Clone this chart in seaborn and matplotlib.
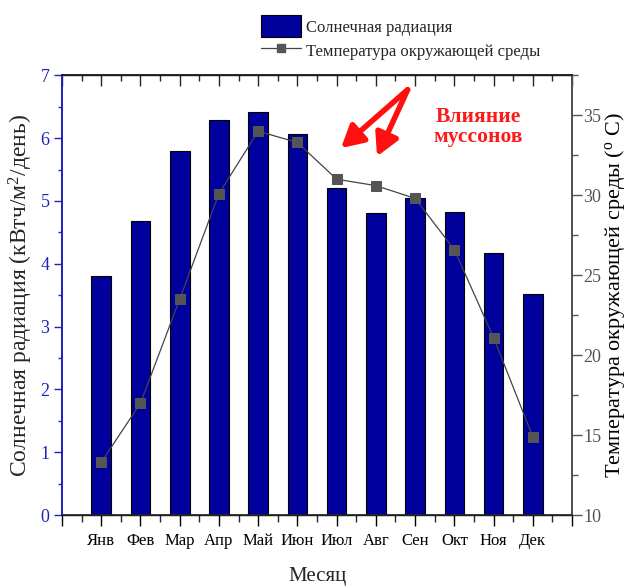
import numpy as np
import pandas as pd
import matplotlib
matplotlib.use("Agg")
import matplotlib.pyplot as plt
from matplotlib.ticker import MultipleLocator, FuncFormatter
from matplotlib.lines import Line2D
from matplotlib.patches import Patch
import seaborn as sns

# ── Data ───────────────────────────────────────────────────────────────────────
months = ["Янв", "Фев", "Мар", "Апр", "Май", "Июн",
          "Июл", "Авг", "Сен", "Окт", "Ноя", "Дек"]
radiation = [3.80, 4.68, 5.79, 6.29, 6.41, 6.07, 5.21, 4.80, 5.05, 4.82, 4.17, 3.52]
temperature = [13.3, 17.0, 23.5, 30.1, 34.0, 33.3, 31.0, 30.6, 29.8, 26.6, 21.1, 14.9]

BAR_COLOR = "#00009c"
AXIS_BLUE = "#2222bb"
AXIS_GREY = "#555555"

sns.set_theme(style="ticks")
plt.rcParams["font.family"] = ["Liberation Serif", "DejaVu Serif"]
plt.rcParams["mathtext.fontset"] = "custom"
plt.rcParams["mathtext.rm"] = "Liberation Serif"
plt.rcParams["mathtext.it"] = "Liberation Serif:italic"

df = pd.DataFrame({"month": months, "rad": radiation})
pos = np.arange(len(months))

fig = plt.figure(figsize=(6.29, 5.88), dpi=100)
ax = fig.add_axes([0.0986, 0.124, 0.8108, 0.748])

sns.barplot(data=df, x="month", y="rad", color=BAR_COLOR, width=0.5,
            edgecolor="black", linewidth=0.8, saturation=1, ax=ax, zorder=2)

ax.set_xlim(-1, len(months))
ax.set_ylim(0, 7)
ax.xaxis.set_major_locator(MultipleLocator(1))
ax.xaxis.set_minor_locator(MultipleLocator(0.5))
ax.xaxis.set_major_formatter(FuncFormatter(
    lambda v, p: months[int(round(v))] if 0 <= round(v) < len(months) else ""))
ax.yaxis.set_major_locator(MultipleLocator(1))
ax.yaxis.set_minor_locator(MultipleLocator(0.5))

ax.tick_params(axis="x", which="major", direction="out", length=8, width=1,
               labelsize=12, pad=5, colors="black")
ax.tick_params(axis="x", which="minor", direction="out", length=5, width=1)
ax.tick_params(axis="y", which="major", direction="out", length=6, width=1,
               labelsize=13, pad=3, colors=AXIS_BLUE)
ax.tick_params(axis="y", which="minor", direction="out", length=3, width=1,
               colors=AXIS_BLUE)
ax.spines["left"].set_color(AXIS_BLUE)
for s in ["top", "bottom"]:
    ax.spines[s].set_color("black")
    ax.spines[s].set_linewidth(1)

ax.set_xlabel("Месяц", fontsize=15, labelpad=13)
ax.set_ylabel("Солнечная радиация (кВтч/м$^2$/день)", fontsize=17, labelpad=4)

# top ticks pointing inward
top = ax.secondary_xaxis("top")
top.xaxis.set_major_locator(MultipleLocator(1))
top.xaxis.set_minor_locator(MultipleLocator(0.5))
top.tick_params(which="major", direction="in", length=8, width=1, labeltop=False)
top.tick_params(which="minor", direction="in", length=4, width=1)

# ── Temperature on twin axis ───────────────────────────────────────────────────
ax2 = ax.twinx()
sns.lineplot(x=pos, y=temperature, ax=ax2, color="#444444", linewidth=0.9,
             marker="s", markersize=7, markerfacecolor="#555555",
             markeredgecolor="#555555", zorder=3)
ax2.set_ylim(10, 37.5)
ax2.yaxis.set_major_locator(MultipleLocator(5))
ax2.yaxis.set_minor_locator(MultipleLocator(2.5))
ax2.tick_params(axis="y", which="major", direction="out", length=7, width=1,
                labelsize=13, pad=1, colors=AXIS_GREY)
ax2.tick_params(axis="y", which="minor", direction="out", length=4, width=1,
                colors=AXIS_GREY)
ax2.spines["right"].set_color(AXIS_GREY)
ax2.spines["left"].set_color(AXIS_BLUE)
ax2.set_ylabel("Температура окружающей среды ($^{\\rm o}$ C)", fontsize=16,
               labelpad=1, color="black")

# ── Annotation ─────────────────────────────────────────────────────────────────
ax.text(9.6, 6.17, "Влияние\nмуссонов", color="#ff1a1a", fontsize=15.5,
        fontweight="bold", ha="center", va="center", linespacing=1.0, zorder=5)
for tip in [(6.11, 5.84), (7.03, 5.71)]:
    ax.annotate("", xy=tip, xytext=(7.81, 6.77),
                arrowprops=dict(arrowstyle="-|>,head_length=1.1,head_width=0.6",
                                color="#ff1010", lw=4, shrinkA=0, shrinkB=0),
                zorder=5)

# ── Legend ─────────────────────────────────────────────────────────────────────
handles = [Patch(facecolor=BAR_COLOR, edgecolor="black", linewidth=0.8),
           Line2D([], [], color="#444444", linewidth=0.9, marker="s",
                  markersize=6, markerfacecolor="#555555", markeredgecolor="#555555")]
fig.legend(handles, ["Солнечная радиация", "Температура окружающей среды"],
           loc="upper left", bbox_to_anchor=(0.405, 0.985), frameon=False,
           fontsize=12, handlelength=2.4, handleheight=1.6, labelspacing=0.2,
           handletextpad=0.3, borderaxespad=0)

fig.savefig("out.png", dpi=100)
